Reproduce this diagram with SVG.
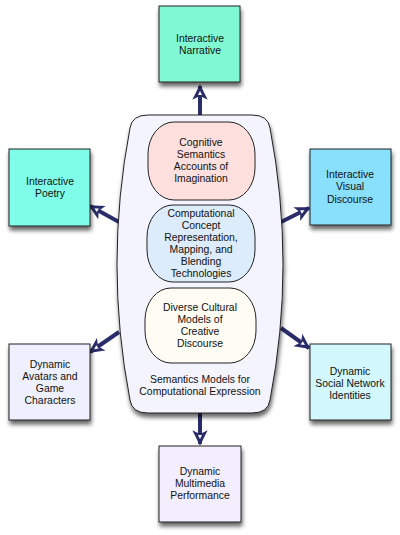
<svg xmlns="http://www.w3.org/2000/svg" width="400" height="535" viewBox="0 0 400 535">
<defs>
<filter id="sh" x="-20%" y="-20%" width="150%" height="150%">
<feGaussianBlur in="SourceAlpha" stdDeviation="2"/>
<feOffset dx="1" dy="4" result="b"/>
<feComponentTransfer><feFuncA type="linear" slope="0.6"/></feComponentTransfer>
<feMerge><feMergeNode/><feMergeNode in="SourceGraphic"/></feMerge>
</filter>
<marker id="ah" viewBox="0 0 16 16" refX="14" refY="8" markerWidth="16" markerHeight="16" markerUnits="userSpaceOnUse" orient="auto">
<polygon points="2,2 14,8 2,14 5,8" fill="#2a2d6a" stroke="#2a2d6a" stroke-width="1.5" stroke-linejoin="miter"/>
<polygon points="5,6 9,8 5,10" fill="#ffffff"/>
</marker>
</defs>
<style>
text{font-family:"Liberation Sans",Arial,sans-serif;font-size:10.4px;fill:#111;text-anchor:middle}
.box{stroke:#222;stroke-width:1}
.conn{stroke:#2a2d6a;stroke-width:4;fill:none;marker-end:url(#ah)}
</style>
<rect width="400" height="535" fill="#ffffff"/>
<g id="connectors">
<line class="conn" x1="200" y1="116" x2="200" y2="86"/>
<line class="conn" x1="119" y1="222" x2="90" y2="206"/>
<line class="conn" x1="281" y1="222" x2="309" y2="208"/>
<line class="conn" x1="119" y1="332" x2="90" y2="352"/>
<line class="conn" x1="281" y1="328" x2="309" y2="348"/>
<line class="conn" x1="200" y1="412" x2="200" y2="444"/>
</g>
<g id="container">
<path class="box" filter="url(#sh)" fill="#f4f4ff" d="M148 115 H252 Q268 115 270 128 Q296 265 270 400 Q268 413 252 413 H148 Q132 413 130 400 Q104 265 130 128 Q132 115 148 115 Z"/>
<text x="200" y="383">Semantics Models for</text>
<text x="200" y="395">Computational Expression</text>
</g>
<g id="cognitive">
<rect class="box" x="148" y="122" width="107" height="78" rx="26" ry="32" fill="#fde0de"/>
<text x="201" y="146">Cognitive</text>
<text x="201" y="158">Semantics</text>
<text x="201" y="170">Accounts of</text>
<text x="201" y="182">Imagination</text>
</g>
<g id="computational">
<rect class="box" x="147" y="205" width="108" height="77" rx="26" ry="32" fill="#dcecfb"/>
<text x="201" y="217">Computational</text>
<text x="201" y="229">Concept</text>
<text x="201" y="241">Representation,</text>
<text x="201" y="253">Mapping, and</text>
<text x="201" y="265">Blending</text>
<text x="201" y="277">Technologies</text>
</g>
<g id="cultural">
<rect class="box" x="145" y="288" width="111" height="75" rx="26" ry="32" fill="#fefcf3"/>
<text x="200" y="311">Diverse Cultural</text>
<text x="200" y="323">Models of</text>
<text x="200" y="335">Creative</text>
<text x="200" y="347">Discourse</text>
</g>
<g id="narrative">
<rect class="box" filter="url(#sh)" x="159" y="6" width="81" height="76" fill="#80f9d2"/>
<text x="200" y="42">Interactive</text>
<text x="200" y="54">Narrative</text>
</g>
<g id="poetry">
<rect class="box" filter="url(#sh)" x="9" y="149" width="81" height="77" fill="#80fde9"/>
<text x="50" y="185">Interactive</text>
<text x="50" y="197">Poetry</text>
</g>
<g id="visual">
<rect class="box" filter="url(#sh)" x="310" y="149" width="81" height="76" fill="#88e0fc"/>
<text x="350" y="178">Interactive</text>
<text x="350" y="190">Visual</text>
<text x="350" y="203">Discourse</text>
</g>
<g id="avatars">
<rect class="box" filter="url(#sh)" x="9" y="344" width="81" height="76" fill="#eef0fe"/>
<text x="50" y="368">Dynamic</text>
<text x="50" y="380">Avatars and</text>
<text x="50" y="392">Game</text>
<text x="50" y="404">Characters</text>
</g>
<g id="social">
<rect class="box" filter="url(#sh)" x="310" y="344" width="81" height="76" fill="#d2f8fd"/>
<text x="350" y="375">Dynamic</text>
<text x="350" y="387">Social Network</text>
<text x="350" y="399">Identities</text>
</g>
<g id="multimedia">
<rect class="box" filter="url(#sh)" x="159" y="446" width="82" height="76" fill="#f3eefd"/>
<text x="200" y="475">Dynamic</text>
<text x="200" y="487">Multimedia</text>
<text x="200" y="499">Performance</text>
</g>
</svg>
